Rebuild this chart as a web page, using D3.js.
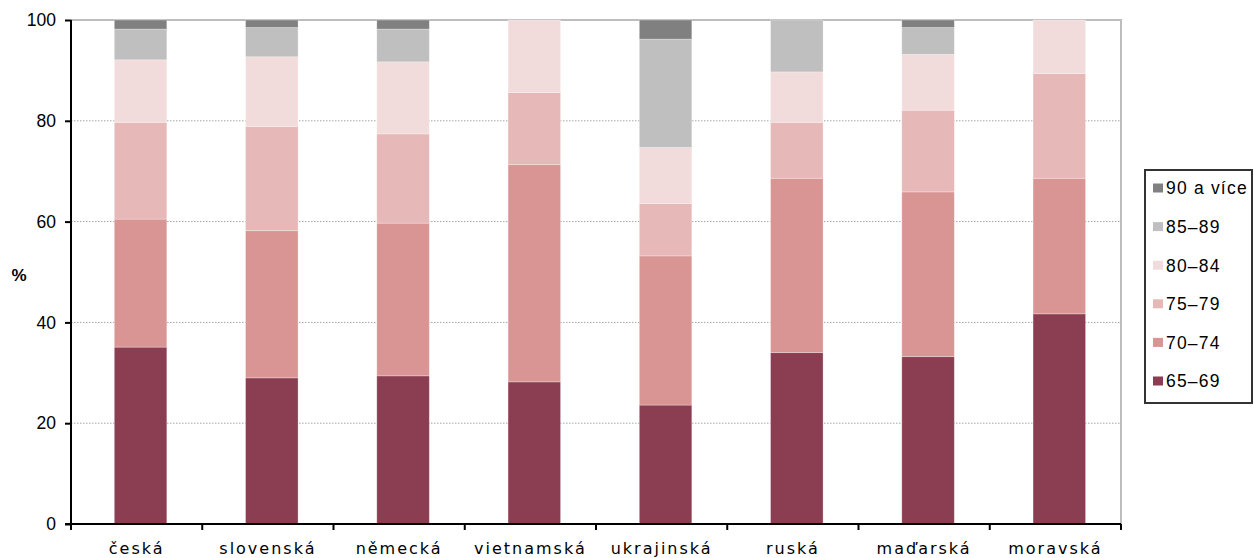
<!DOCTYPE html>
<html>
<head>
<meta charset="utf-8">
<script src="https://cdn.jsdelivr.net/npm/d3@7"></script>
<style>
  html, body { margin: 0; padding: 0; background: #fff; }
  svg { display: block; }
</style>
</head>
<body>
<svg id="chart" width="1254" height="558"></svg>
<script>
// ---- data ----
const categories = ["česká", "slovenská", "německá", "vietnamská", "ukrajinská", "ruská", "maďarská", "moravská"];
const seriesNames = ["65–69", "70–74", "75–79", "80–84", "85–89", "90 a více"];
const s65_69   = [35.1, 29.0, 29.4, 28.2, 23.6, 34.0, 33.2, 41.7];
const s70_74   = [25.4, 29.2, 30.3, 43.1, 29.6, 34.6, 32.7, 26.9];
const s75_79   = [19.2, 20.7, 17.7, 14.3, 10.4, 11.1, 16.2, 20.8];
const s80_84   = [12.4, 13.8, 14.3, 14.4, 11.1, 10.0, 11.1, 10.6];
const s85_89   = [ 6.1,  5.8,  6.5,  0.0, 21.5, 10.3,  5.3,  0.0];
const s90plus  = [ 1.8,  1.5,  1.8,  0.0,  3.8,  0.0,  1.5,  0.0];
const yTicks = [0, 20, 40, 60, 80, 100];
const colors = ["#8B3D52", "#D99594", "#E6B8B7", "#F2DCDB", "#BFBFBF", "#808080"];

const seriesValues = [s65_69, s70_74, s75_79, s80_84, s85_89, s90plus];
const rows = categories.map((c, i) => {
  const r = { cat: c };
  seriesNames.forEach((n, k) => r[n] = seriesValues[k][i]);
  return r;
});

// ---- layout ----
const svg = d3.select("#chart");
const pL = 71, pR = 1121, pT = 20, pB = 524;

const x = d3.scaleBand().domain(categories).range([pL, pR]).paddingInner(0.6).paddingOuter(0.3).align(0.55);
const xb = d3.scaleBand().domain(categories).range([pL, pR]).padding(0);
const y = d3.scaleLinear().domain([0, 100]).range([pB, pT]);

// gridlines
svg.append("g")
  .selectAll("line")
  .data(yTicks.filter(t => t > 0 && t < 100))
  .join("line")
  .attr("x1", pL).attr("x2", pR)
  .attr("y1", d => y(d)).attr("y2", d => y(d))
  .attr("stroke", "#a6a6a6")
  .attr("stroke-width", 1)
  .attr("stroke-dasharray", "1.5,1.5");

// plot border top/right
svg.append("path")
  .attr("d", `M${pL},${y(100)}H${pR}V${pB}`)
  .attr("fill", "none")
  .attr("stroke", "#bdbdbd")
  .attr("stroke-width", 2);

// stacked bars
const stack = d3.stack().keys(seriesNames);
const stacked = stack(rows);

svg.append("g")
  .selectAll("g")
  .data(stacked)
  .join("g")
  .attr("fill", (d, i) => colors[i])
  .selectAll("rect")
  .data(d => d.filter(p => p[1] - p[0] > 0))
  .join("rect")
  .attr("x", d => x(d.data.cat))
  .attr("width", x.bandwidth())
  .attr("y", d => y(d[1]))
  .attr("height", d => y(d[0]) - y(d[1]))
  .attr("stroke", "rgba(255,255,255,0.35)")
  .attr("stroke-width", 0.8);

// y axis
const yAxis = d3.axisLeft(y).tickValues(yTicks).tickSize(6).tickPadding(9).tickFormat(d3.format("d"));
const gy = svg.append("g").attr("transform", `translate(${pL},0)`).call(yAxis);
gy.select(".domain").attr("stroke", "#000").attr("stroke-width", 2).attr("d", `M0,${pB}V${pT}`);
gy.selectAll(".tick line").attr("stroke", "#000").attr("stroke-width", 2);
gy.selectAll(".tick text")
  .attr("font-family", "'Liberation Sans', Arial, sans-serif")
  .attr("font-size", 17.5).attr("fill", "#000");

// x axis
const xAxis = d3.axisBottom(xb).tickSize(0).tickPadding(19);
const gx = svg.append("g").attr("transform", `translate(0,${pB})`).call(xAxis);
gx.select(".domain").attr("stroke", "#000").attr("stroke-width", 2).attr("d", `M${pL - 6},0H${pR}`);
gx.selectAll(".tick text")
  .attr("font-family", "'DejaVu Sans', Verdana, sans-serif")
  .attr("font-size", 16).attr("letter-spacing", "2px").attr("fill", "#000");
// boundary ticks
svg.append("g")
  .selectAll("line")
  .data(categories.concat(["__end"]))
  .join("line")
  .attr("x1", (d, i) => i < categories.length ? xb(d) : pR)
  .attr("x2", (d, i) => i < categories.length ? xb(d) : pR)
  .attr("y1", pB).attr("y2", pB + 6)
  .attr("stroke", "#000").attr("stroke-width", 2);

// y label
svg.append("text")
  .attr("x", 19).attr("y", 281)
  .attr("text-anchor", "middle")
  .attr("font-family", "'Liberation Sans', Arial, sans-serif")
  .attr("font-size", 17).attr("font-weight", "bold").attr("fill", "#000")
  .text("%");

// legend
const lg = svg.append("g");
lg.append("rect")
  .attr("x", 1145).attr("y", 170).attr("width", 107).attr("height", 233)
  .attr("fill", "#fff").attr("stroke", "#333").attr("stroke-width", 2);
const legendOrder = seriesNames.map((n, i) => ({ n, c: colors[i] })).reverse();
const ly = d3.scalePoint().domain(legendOrder.map(d => d.n)).range([188, 381]);
const items = lg.selectAll("g.item").data(legendOrder).join("g").attr("class", "item")
  .attr("transform", d => `translate(1153,${ly(d.n)})`);
items.append("rect").attr("x", 0).attr("y", -4.5).attr("width", 10).attr("height", 9).attr("fill", d => d.c);
items.append("text").attr("x", 13).attr("y", 6.4)
  .attr("font-family", "'Liberation Sans', Arial, sans-serif")
  .attr("font-size", 17.5).attr("letter-spacing", "1.2px").attr("fill", "#000")
  .text(d => d.n);
</script>
</body>
</html>
